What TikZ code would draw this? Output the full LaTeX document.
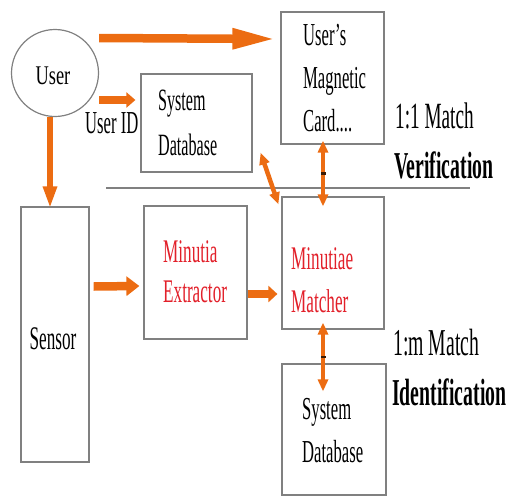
\documentclass[tikz,border=0pt]{standalone}
\usepackage{fontspec}
\setmainfont{Liberation Serif}[FakeStretch=0.52]
\newfontfamily\condfont{Liberation Serif}[FakeStretch=0.52]
\newfontfamily\widefont{Liberation Serif}[FakeStretch=0.68]
\usepackage{xcolor}
\usetikzlibrary{arrows.meta}

\definecolor{arrorange}{RGB}{236,108,18}
\definecolor{boxgray}{RGB}{128,128,128}
\definecolor{txtred}{RGB}{226,32,42}

\begin{document}
\begin{tikzpicture}[x=1pt,y=-1pt,
    box/.style={draw=boxgray, line width=1.2pt, inner sep=0pt},
    txt/.style 2 args={font=\condfont\fontsize{#1}{#2}\selectfont, align=left, inner sep=0pt, anchor=west},
    boldtxt/.style={font=\condfont\bfseries\fontsize{#1}{#1}\selectfont, inner sep=0pt, anchor=west},
    wide/.style={font=\widefont\fontsize{#1}{#1}\selectfont, inner sep=0pt},
    bigarrow/.style={draw=arrorange, line width=8.5pt, -{Triangle[length=13pt,width=19pt]}},
    duoarrow/.style={draw=arrorange, line width=4.5pt, {Triangle[length=12pt,width=10pt]}-{Triangle[length=12pt,width=10pt]}},
    tick/.style={fill=black!75!arrorange, minimum width=5pt, minimum height=2.5pt, inner sep=0pt}]
    \useasboundingbox (0,0) rectangle (507,496);

    % User
    \node[box, circle, minimum size=87pt] (user) at (55,73) {};
    \node[wide=27] (usertxt) at (53,76) {User};

    % Upper boxes
    \node[box, minimum width=111pt, minimum height=98pt] (dbtop) at (196.5,123) {};
    \node[txt={31}{45}] (dbtoptxt) at (158,123) {System\\Database};
    \node[box, minimum width=103pt, minimum height=132pt] (card) at (332.5,78) {};
    \node[txt={32}{43}] (cardtxt) at (303,78.5) {User’s\\Magnetic\\Card....};
    \node[txt={32}{32}] (userid) at (85,123.3) {User ID};

    % Separator
    \draw[boxgray, line width=1.5pt] (106,188) -- (470,188);

    % Lower boxes
    \node[box, minimum width=68pt, minimum height=255pt] (sensor) at (55,334.5) {};
    \node[txt={33}{33}, anchor=center] (sensortxt) at (53,339) {Sensor};
    \node[box, minimum width=103pt, minimum height=133pt] (extractor) at (195.5,272.5) {};
    \node[txt={33}{40}, txtred] (extxt) at (163,272.2) {Minutia\\Extractor};
    \node[box, minimum width=102pt, minimum height=132pt] (matcher) at (333,263) {};
    \node[txt={33}{43}, txtred] (matchtxt) at (291,280) {Minutiae\\Matcher};
    \node[box, minimum width=104pt, minimum height=131pt] (dbbot) at (334,429.5) {};
    \node[txt={32}{43}] (dbbottxt) at (302,430.5) {System\\Database};

    % Match labels
    \node[txt={37}{37}] (oneone) at (395,115.5) {1:1 Match};
    \node[boldtxt=38] (verif) at (394,165) {Verification};
    \node[txt={38}{38}] (onem) at (393,343) {1:m Match};
    \node[boldtxt=38] (ident) at (392,392) {Identification};

    % Flow arrows
    \draw[bigarrow, -{Triangle[length=44pt,width=19pt]}] ([yshift=35pt]user.east) -- ([xshift=-4pt,yshift=39pt]card.west);
    \draw[bigarrow, -{Triangle[length=9pt,width=15pt]}] ([yshift=-27pt]user.east) -- ([xshift=-5pt,yshift=23pt]dbtop.west);
    \draw[bigarrow, line width=5.5pt, -{Triangle[length=22pt,width=13pt]}] ([xshift=-5pt]user.south) -- ([xshift=-5pt,yshift=-2pt]sensor.north);
    \draw[bigarrow] ([xshift=4pt,yshift=48pt]sensor.east) -- ([xshift=-4pt,yshift=-13.5pt]extractor.west);
    \draw[bigarrow, -{Triangle[length=9pt,width=16pt]}] ([yshift=-21.5pt]extractor.east) -- ([xshift=-4pt,yshift=-31pt]matcher.west);

    % Matcher links
    \draw[duoarrow] ([xshift=8pt,yshift=20pt]dbtop.south east) -- ([xshift=-3pt,yshift=-8pt]matcher.north west);
    \draw[duoarrow] ([xshift=-9.5pt,yshift=4pt]card.south) -- ([xshift=-10pt,yshift=-10pt]matcher.north)
        node[midway, tick] (ticktop) {};
    \draw[duoarrow] ([xshift=-10pt,yshift=7pt]matcher.south) -- ([xshift=-11pt,yshift=-28pt]dbbot.north)
        node[midway, tick] (tickbot) {};
\end{tikzpicture}
\end{document}
